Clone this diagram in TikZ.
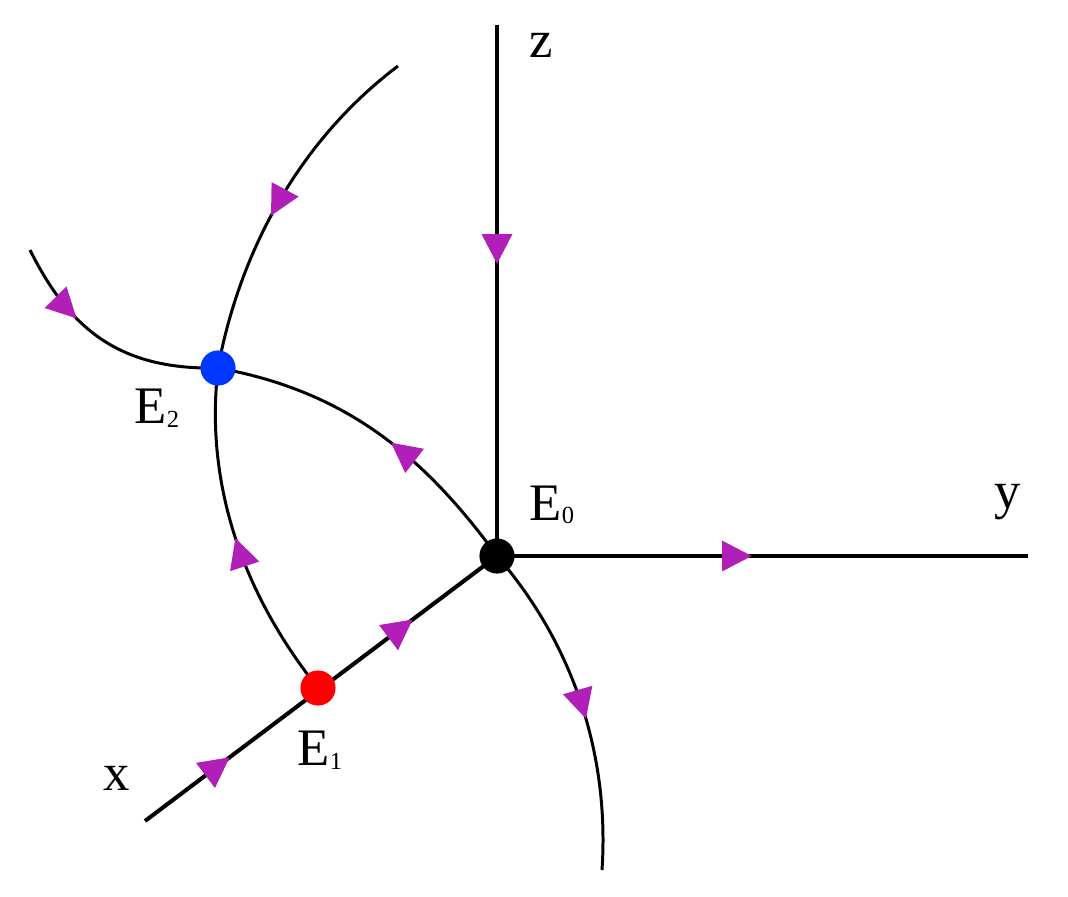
\documentclass[tikz,border=0pt]{standalone}
\usepackage{fontspec}
\setmainfont{Liberation Serif}
\usetikzlibrary{arrows.meta,decorations.markings}
\definecolor{flow}{HTML}{B020B8}
\tikzset{
  mk/.style={postaction={decorate},decoration={markings,mark=at position #1 with {\arrow{Triangle[length=17pt,width=17pt,color=flow]}}}},
  axis/.style={line width=2.3pt},
  traj/.style={line width=1.7pt},
  lab/.style={font=\fontsize{30}{30}\selectfont,inner sep=0pt},
  pt/.style={circle,inner sep=0pt,minimum size=20pt},
}
\begin{document}
\begin{tikzpicture}[x=0.02cm,y=-0.02cm]
\useasboundingbox (0,0) rectangle (1068,896);
\coordinate (E0) at (497,556);
\coordinate (E1) at (318,688);
\coordinate (E2) at (218,368);
\coordinate (zt) at (497,25);
\coordinate (ye) at (1028,556);
\coordinate (xe) at (145,821);
\coordinate (t1) at (398,66);
\coordinate (t2) at (30,250);
\coordinate (t3) at (602,870);
\draw[axis,mk=0.45] (zt) -- (E0);
\draw[axis,mk=0.48] (E0) -- (ye);
\draw[axis,mk=0.24,mk=0.76] (xe) -- (E0);
\draw[traj,mk=0.55] (t1) .. controls (300,140) and (240,250) .. (E2);
\draw[traj,mk=0.35] (t2) .. controls (70,330) and (120,370) .. (E2);
\draw[traj,mk=0.45] (E0) .. controls (420,450) and (340,390) .. (E2);
\draw[traj,mk=0.5] (E1) .. controls (240,590) and (205,480) .. (E2);
\draw[traj,mk=0.55] (E0) .. controls (570,640) and (610,750) .. (t3);
\node[pt,fill=black] (n0) at (E0) {};
\node[pt,fill=red] (n1) at (E1) {};
\node[pt,fill={rgb,255:red,0;green,55;blue,255}] (n2) at (E2) {};
\node[lab] (lz) at (541,45) {z};
\node[lab] (ly) at (1008,502) {y};
\node[lab] (lx) at (117,778) {x};
\node[lab] (l0) at (552,505) {E\raisebox{-2pt}{\fontsize{14}{14}\selectfont 0}};
\node[lab] (l1) at (320,750) {E\raisebox{-2pt}{\fontsize{14}{14}\selectfont 1}};
\node[lab] (l2) at (157,408) {E\raisebox{-2pt}{\fontsize{14}{14}\selectfont 2}};
\end{tikzpicture}
\end{document}
